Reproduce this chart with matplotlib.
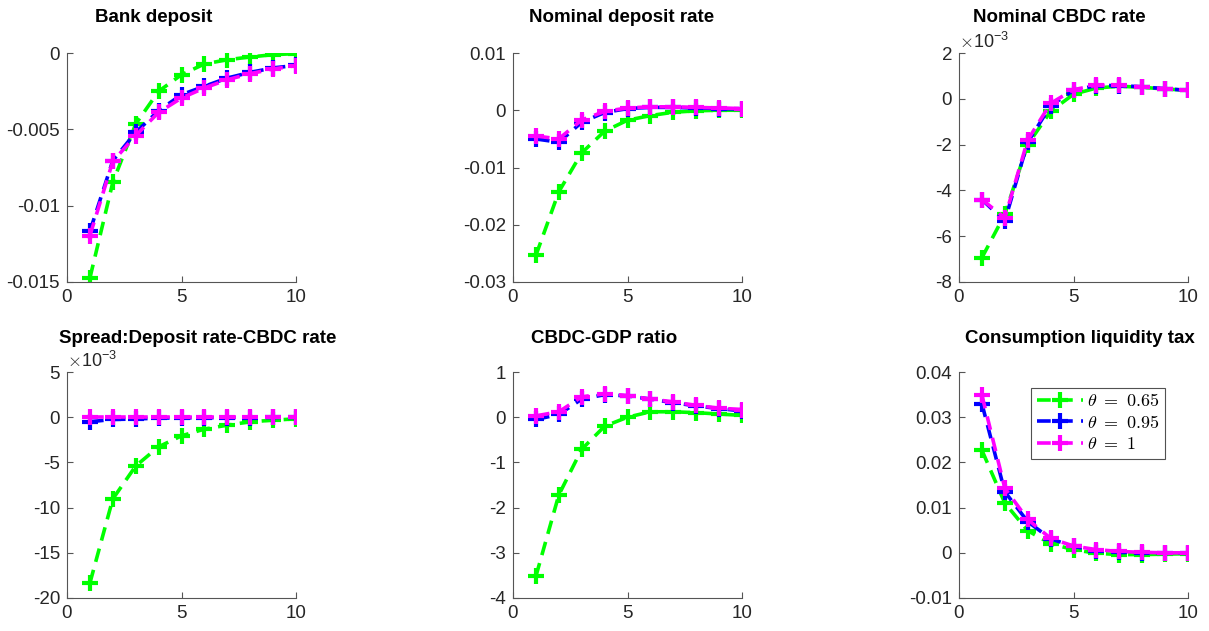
import numpy as np
import matplotlib.pyplot as plt
from matplotlib.ticker import FuncFormatter

plt.rcParams['font.family'] = ['Liberation Sans', 'DejaVu Sans']
plt.rcParams['axes.unicode_minus'] = False
plt.rcParams['mathtext.fontset'] = 'cm'

t = np.arange(1, 11)

labels = [r'$\theta\ =\ 0.65$', r'$\theta\ =\ 0.95$', r'$\theta\ =\ 1$']
colors = ['#00ff00', '#0000ff', '#ff00ff']

titles = ['Bank deposit', 'Nominal deposit rate', 'Nominal CBDC rate',
          'Spread:Deposit rate-CBDC rate', 'CBDC-GDP ratio', 'Consumption liquidity tax']

# each panel: [theta=0.65, theta=0.95, theta=1]
deposit = [
    [-0.01474, -0.00847, -0.00465, -0.00251, -0.00142, -0.00072, -0.00044, -0.00026, -0.00011, -0.00004],
    [-0.01168, -0.00705, -0.00520, -0.00378, -0.00273, -0.00218, -0.00164, -0.00127, -0.00098, -0.00081],
    [-0.01196, -0.00710, -0.00541, -0.00389, -0.00295, -0.00229, -0.00175, -0.00135, -0.00105, -0.00083],
]
dep_rate = [
    [-0.02535, -0.01424, -0.00744, -0.00366, -0.00174, -0.00093, -0.00035, -0.00010, 0.0, 0.0],
    [-0.0050, -0.0056, -0.0021, -0.0004, 0.0003, 0.0005, 0.0005, 0.0004, 0.0003, 0.0002],
    [-0.0045, -0.0050, -0.0017, -0.0002, 0.0004, 0.0006, 0.0006, 0.0005, 0.0004, 0.0003],
]
cbdc_rate = [
    [-6.94e-3, -5.05e-3, -2.0e-3, -0.55e-3, 0.2e-3, 0.47e-3, 0.55e-3, 0.5e-3, 0.43e-3, 0.37e-3],
    [-4.4e-3, -5.34e-3, -1.9e-3, -0.3e-3, 0.37e-3, 0.58e-3, 0.58e-3, 0.52e-3, 0.44e-3, 0.37e-3],
    [-4.4e-3, -5.2e-3, -1.8e-3, -0.2e-3, 0.4e-3, 0.59e-3, 0.59e-3, 0.52e-3, 0.44e-3, 0.37e-3],
]
spread = [
    [-18.35e-3, -9.04e-3, -5.4e-3, -3.27e-3, -2.06e-3, -1.32e-3, -0.88e-3, -0.51e-3, -0.33e-3, -0.18e-3],
    [-0.5e-3, -0.25e-3, -0.2e-3, -0.1e-3, -0.08e-3, -0.06e-3, -0.05e-3, -0.04e-3, -0.03e-3, -0.02e-3],
    [0.0, 0.0, 0.0, 0.0, 0.0, 0.0, 0.0, 0.0, 0.0, 0.0],
]
cbdc_gdp = [
    [-3.52, -1.72, -0.71, -0.2, 0.0, 0.12, 0.12, 0.1, 0.07, 0.04],
    [-0.05, 0.06, 0.4, 0.5, 0.47, 0.4, 0.32, 0.25, 0.19, 0.14],
    [0.03, 0.12, 0.45, 0.52, 0.48, 0.4, 0.34, 0.26, 0.2, 0.17],
]
liq_tax = [
    [0.0227, 0.011, 0.0049, 0.002, 0.0007, -0.0001, -0.0004, -0.0004, -0.0003, -0.0002],
    [0.033, 0.0135, 0.0069, 0.0031, 0.0014, 0.0005, 0.0001, 0.0, 0.0, 0.0],
    [0.0349, 0.0143, 0.0074, 0.0032, 0.0015, 0.0007, 0.0003, 0.0001, 0.0, 0.0],
]

panels = [deposit, dep_rate, cbdc_rate, spread, cbdc_gdp, liq_tax]
yticks = [
    [-0.015, -0.01, -0.005, 0],
    [-0.03, -0.02, -0.01, 0, 0.01],
    [-8e-3, -6e-3, -4e-3, -2e-3, 0, 2e-3],
    [-20e-3, -15e-3, -10e-3, -5e-3, 0, 5e-3],
    [-4, -3, -2, -1, 0, 1],
    [-0.01, 0, 0.01, 0.02, 0.03, 0.04],
]
scaled = [False, False, True, True, False, False]
title_x = [0.38, 0.476, 0.437, 0.57, 0.40, 0.53]

W, H = 1209, 631
fig = plt.figure(figsize=(W / 100, H / 100), dpi=100)
lefts = [67, 513, 959]
tops = [53, 372]
heights = [229, 226]

for i, data in enumerate(panels):
    r, c = divmod(i, 3)
    ax = fig.add_axes([lefts[c] / W, 1 - (tops[r] + heights[r]) / H, 229 / W, heights[r] / H])
    for k in range(3):
        ax.plot(t, data[k], '--+', color=colors[k], lw=2.6, ms=11, mew=3,
                dashes=(3.8, 2.3), label=labels[k])
    ax.set_xlim(0, 10)
    ax.set_xticks([0, 5, 10])
    ax.set_ylim(yticks[i][0], yticks[i][-1])
    ax.set_yticks(yticks[i])
    if scaled[i]:
        ax.yaxis.set_major_formatter(FuncFormatter(lambda v, p: '%g' % round(v * 1e3, 6)))
        ax.text(0.0, 1.005, r'$\times\mathregular{10^{-3}}$', transform=ax.transAxes,
                fontsize=13, color='#262626', ha='left', va='bottom')
    else:
        ax.yaxis.set_major_formatter(FuncFormatter(lambda v, p: '%g' % round(v, 6)))
    for s in ['top', 'right']:
        ax.spines[s].set_visible(False)
    for s in ['left', 'bottom']:
        ax.spines[s].set_color('#555555')
        ax.spines[s].set_linewidth(0.8)
    ax.tick_params(direction='in', length=4, width=0.8, color='#555555',
                   labelsize=13.5, labelcolor='#262626', pad=5)
    ax.set_title(titles[i], fontsize=13.5, fontweight='bold', x=title_x[i],
                 pad=22 if r == 0 else 21)
    if i == 5:
        leg = ax.legend(loc='upper right', bbox_to_anchor=(0.90, 0.93), fontsize=13,
                        frameon=True, fancybox=False, handlelength=2.6, borderpad=0.3,
                        labelspacing=0.25, handletextpad=0.2, borderaxespad=0)
        leg.get_frame().set_edgecolor('#262626')
        leg.get_frame().set_linewidth(0.8)

fig.savefig('out.png', dpi=100)
